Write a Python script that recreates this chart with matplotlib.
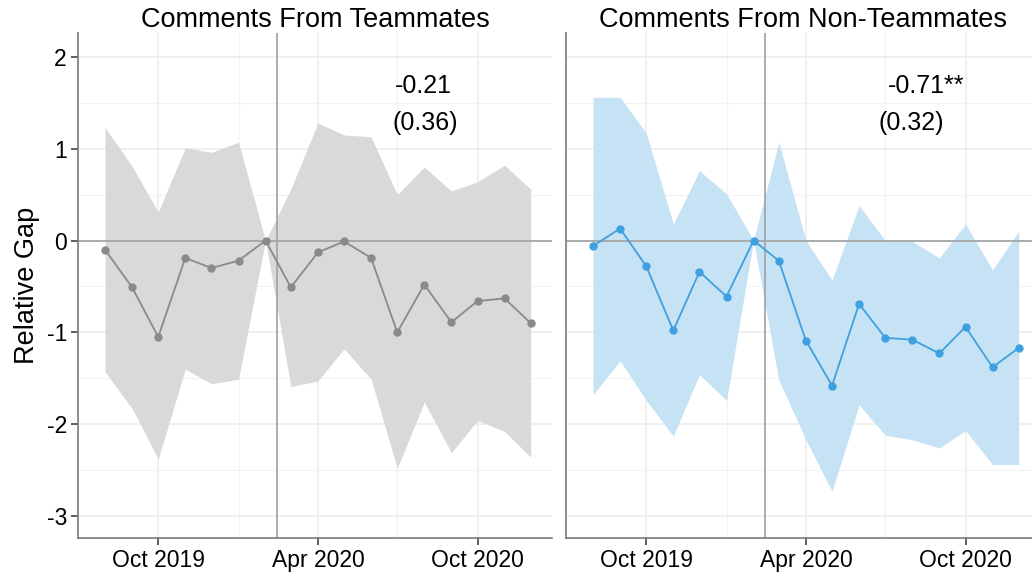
import matplotlib
matplotlib.use("Agg")
import matplotlib.pyplot as plt
import matplotlib.dates as mdates
import numpy as np
import datetime as dt

plt.rcParams['font.family'] = ['Liberation Sans', 'DejaVu Sans']
plt.rcParams['axes.unicode_minus'] = False

months = [dt.date(2019, 8, 1), dt.date(2019, 9, 1), dt.date(2019, 10, 1), dt.date(2019, 11, 1),
          dt.date(2019, 12, 1), dt.date(2020, 1, 1), dt.date(2020, 2, 1), dt.date(2020, 3, 1),
          dt.date(2020, 4, 1), dt.date(2020, 5, 1), dt.date(2020, 6, 1), dt.date(2020, 7, 1),
          dt.date(2020, 8, 1), dt.date(2020, 9, 1), dt.date(2020, 10, 1), dt.date(2020, 11, 1),
          dt.date(2020, 12, 1)]

team_est = [-0.10, -0.51, -1.05, -0.19, -0.30, -0.22, 0.0, -0.51, -0.13, -0.01, -0.19,
            -1.00, -0.48, -0.89, -0.66, -0.63, -0.90]
team_hi = [1.23, 0.81, 0.31, 1.01, 0.96, 1.07, 0.0, 0.56, 1.28, 1.15, 1.13,
           0.50, 0.80, 0.54, 0.64, 0.82, 0.56]
team_lo = [-1.43, -1.83, -2.38, -1.40, -1.56, -1.51, 0.0, -1.59, -1.53, -1.18, -1.51,
           -2.48, -1.76, -2.31, -1.96, -2.08, -2.36]

non_est = [-0.06, 0.13, -0.28, -0.98, -0.34, -0.61, 0.0, -0.22, -1.09, -1.58, -0.69,
           -1.06, -1.08, -1.23, -0.94, -1.38, -1.17]
non_hi = [1.56, 1.56, 1.17, 0.18, 0.76, 0.51, 0.0, 1.07, 0.0, -0.43, 0.38,
          0.0, -0.01, -0.19, 0.18, -0.32, 0.10]
non_lo = [-1.68, -1.31, -1.74, -2.13, -1.46, -1.74, 0.0, -1.52, -2.17, -2.73, -1.79,
          -2.12, -2.17, -2.26, -2.07, -2.44, -2.44]

titles = ["Comments From Teammates", "Comments From Non-Teammates"]
coef_text = [("-0.21", "(0.36)"), ("-0.71**", "(0.32)")]
event_date = dt.date(2020, 2, 14)

fig = plt.figure(figsize=(10.32, 5.75), dpi=100)
ax1 = fig.add_axes([78 / 1032, 37 / 575, 474 / 1032, 505 / 575])
ax2 = fig.add_axes([566 / 1032, 37 / 575, 474 / 1032, 505 / 575])

panels = [(ax1, team_est, team_lo, team_hi, '#8a8a8a', '#d9d9d9'),
          (ax2, non_est, non_lo, non_hi, '#3fa0e0', '#c6e2f5')]

x = mdates.date2num(months)
span = x[-1] - x[0]
xlim = (x[0] - 0.05 * span, x[-1] + 0.05 * span)

for i, (ax, est, lo, hi, lc, fc) in enumerate(panels):
    ax.fill_between(x, lo, hi, color=fc, linewidth=0, zorder=1)
    ax.axhline(0, color='#a6a6a6', linewidth=1.3, zorder=2)
    ax.axvline(mdates.date2num(event_date), color='#a6a6a6', linewidth=1.3, zorder=2)
    ax.plot(x, est, color=lc, linewidth=1.3, marker='o', markersize=5, zorder=3)

    ax.set_xlim(xlim)
    ax.set_ylim(-3.24, 2.26)
    ax.set_yticks([2, 1, 0, -1, -2, -3])
    ax.set_yticks([1.5, 0.5, -0.5, -1.5, -2.5], minor=True)
    xt = mdates.date2num([dt.date(2019, 10, 1), dt.date(2020, 4, 1), dt.date(2020, 10, 1)])
    ax.set_xticks(xt)
    ax.set_xticklabels(["Oct 2019", "Apr 2020", "Oct 2020"])
    ax.set_xticks(mdates.date2num([dt.date(2019, 7, 1), dt.date(2020, 1, 1), dt.date(2020, 7, 1)]),
                  minor=True)
    ax.grid(True, which='major', color='#ebebeb', linewidth=1.1, zorder=0)
    ax.grid(True, which='minor', color='#f2f2f2', linewidth=0.8, zorder=0)
    ax.set_axisbelow(True)
    for s in ['top', 'right']:
        ax.spines[s].set_visible(False)
    for s in ['left', 'bottom']:
        ax.spines[s].set_color('#7a7a7a')
        ax.spines[s].set_linewidth(1.2)
    ax.tick_params(axis='both', which='major', labelsize=16.5, color='#333333',
                   length=5, width=1.1, labelcolor='black', pad=3)
    ax.tick_params(axis='both', which='minor', length=0)
    ax.set_title(titles[i], fontsize=19.5, pad=3)

xa = mdates.date2num(dt.date(2020, 7, 31))
ax1.text(xa, 1.68, coef_text[0][0], ha='center', va='center', fontsize=18)
ax1.text(xa + 2, 1.28, coef_text[0][1], ha='center', va='center', fontsize=18)
ax2.text(xa + 17, 1.68, coef_text[1][0], ha='center', va='center', fontsize=18)
ax2.text(xa, 1.28, coef_text[1][1], ha='center', va='center', fontsize=18)

ax2.tick_params(axis='y', which='both', left=False, labelleft=False)
ax1.set_ylabel("Relative Gap", fontsize=19.5, labelpad=5)

fig.savefig("out.png", dpi=100)
